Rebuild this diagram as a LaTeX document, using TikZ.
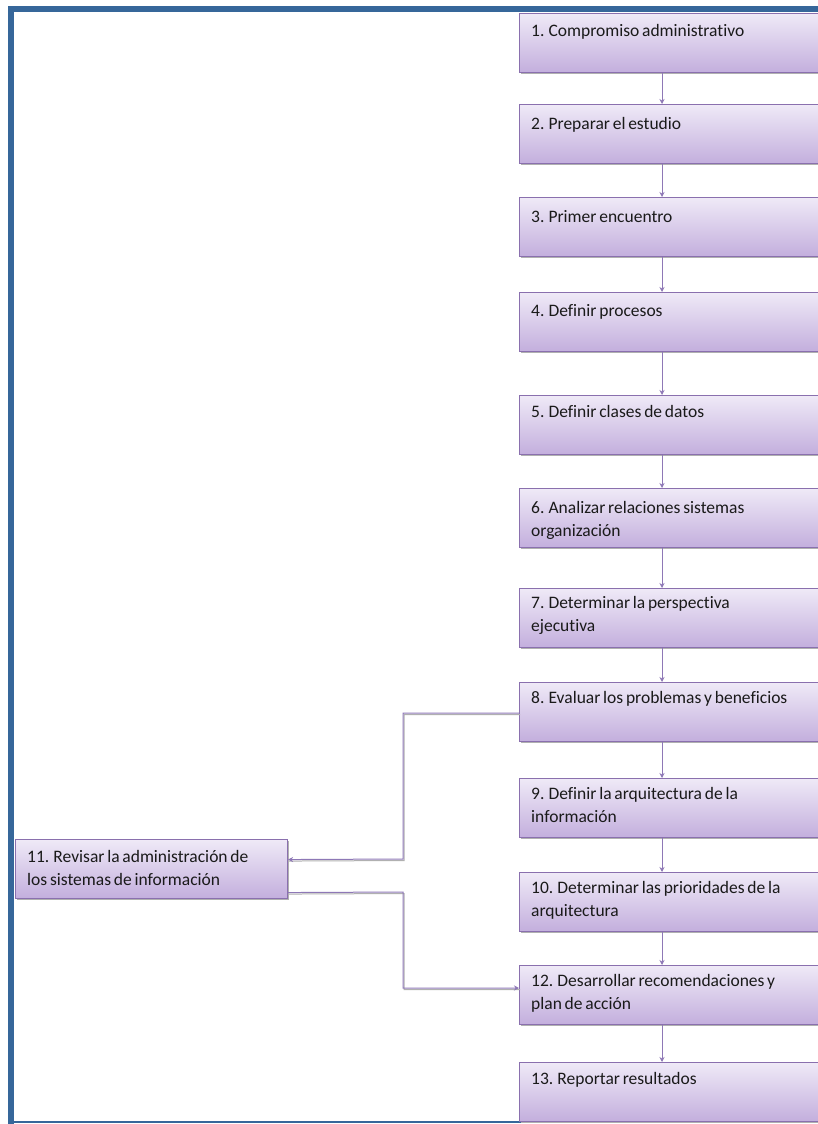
\documentclass[tikz,border=0pt]{standalone}
\usepackage{fontspec}
\setmainfont{Carlito}[WordSpace=0.7, Ligatures=NoCommon]
\usetikzlibrary{arrows.meta}
\definecolor{frameblue}{HTML}{36679A}
\definecolor{boxtop}{HTML}{EFE9F7}
\definecolor{boxbot}{HTML}{C3AEDD}
\definecolor{boxline}{HTML}{8A70AE}
\definecolor{linkcol}{HTML}{8E78B6}
\definecolor{shadecol}{HTML}{B0B0B0}
\definecolor{textcol}{HTML}{1A1A1A}
\begin{document}
\begin{tikzpicture}[x=1pt,y=-1pt,
  stepbox/.style={draw=boxline, line width=1.1pt, top color=boxtop, bottom color=boxbot,
    minimum height=59pt, minimum width=330pt, inner sep=0pt, anchor=north west,
    preaction={fill=shadecol, transform canvas={xshift=1.5pt,yshift=-1.8pt}}},
  sidebox/.style={stepbox, minimum width=272pt},
  % text nodes are placed by the baseline of their last line
  steptext/.style={anchor=base west, align=left, inner sep=0pt, text=textcol,
    font=\fontsize{17.5}{23}\selectfont},
  flow/.style={draw=linkcol, line width=1pt, -{Stealth[length=5pt,width=5pt]}},
  flowshade/.style={draw=shadecol, line width=1pt, transform canvas={xshift=1pt,yshift=-1.5pt}}]
\useasboundingbox (0,0) rectangle (818,1124);
\fill[white] (0,0) rectangle (818,1124);

% page frame
\fill[frameblue] (8,6) rectangle (818,12);
\fill[frameblue] (8,6) rectangle (14,1124);
\fill[frameblue] (8,1121) rectangle (818,1123);

% main column of steps
\node[stepbox] (b1)  at (519,13)   {};
\node[stepbox] (b2)  at (519,104)  {};
\node[stepbox] (b3)  at (519,197)  {};
\node[stepbox] (b4)  at (519,292)  {};
\node[stepbox] (b5)  at (519,395)  {};
\node[stepbox] (b6)  at (519,488)  {};
\node[stepbox] (b7)  at (519,588)  {};
\node[stepbox] (b8)  at (519,682)  {};
\node[stepbox] (b9)  at (519,778)  {};
\node[stepbox] (b10) at (519,872)  {};
\node[stepbox] (b12) at (519,965)  {};
\node[stepbox] (b13) at (519,1062) {};
% side step
\node[sidebox] (b11) at (15,839) {};

\node[steptext] (t1)  at (531,37)   {1. Compromiso administrativo};
\node[steptext] (t2)  at (531,129)  {2. Preparar el estudio};
\node[steptext] (t3)  at (531,222)  {3. Primer encuentro};
\node[steptext] (t4)  at (531,316)  {4. Definir procesos};
\node[steptext] (t5)  at (531,417)  {5. Definir clases de datos};
\node[steptext] (t6)  at (531,536)  {6. Analizar relaciones sistemas\\organización};
\node[steptext] (t7)  at (531,631)  {7. Determinar la perspectiva\\ejecutiva};
\node[steptext] (t8)  at (531,703)  {8. Evaluar los problemas y beneficios};
\node[steptext] (t9)  at (531,822)  {9. Definir la arquitectura de la\\información};
\node[steptext] (t10) at (531,916)  {10. Determinar las prioridades de la\\arquitectura};
\node[steptext] (t12) at (531,1009) {12. Desarrollar recomendaciones y\\plan de acción};
\node[steptext] (t13) at (531,1084) {13. Reportar resultados};
\node[steptext] (t11) at (27,885)   {11. Revisar la administración de\\los sistemas de información};

% vertical arrows between consecutive steps
\foreach \a/\b in {b1/b2,b2/b3,b3/b4,b4/b5,b5/b6,b6/b7,b7/b8,b8/b9,b9/b10,b10/b12,b12/b13}{
  \draw[flow] ([xshift=143pt]\a.south west) -- ([xshift=143pt]\b.north west);
}

% branch to the side step and back
\coordinate (k1) at (403,713);
\coordinate (k2) at (403,859);
\coordinate (k3) at (403,892);
\coordinate (k4) at (403,988);
\draw[flowshade] ([yshift=-31pt]b8.north west) -- (k1) -- (k2) -- ([yshift=9.5pt]b11.east);
\draw[flow] ([yshift=-31pt]b8.north west) -- (k1) -- (k2) -- ([yshift=9.5pt]b11.east);
\draw[flowshade] ([yshift=-23.5pt]b11.east) -- (k3) -- (k4) -- ([yshift=-23pt]b12.north west);
\draw[flow] ([yshift=-23.5pt]b11.east) -- (k3) -- (k4) -- ([yshift=-23pt]b12.north west);
\end{tikzpicture}
\end{document}
